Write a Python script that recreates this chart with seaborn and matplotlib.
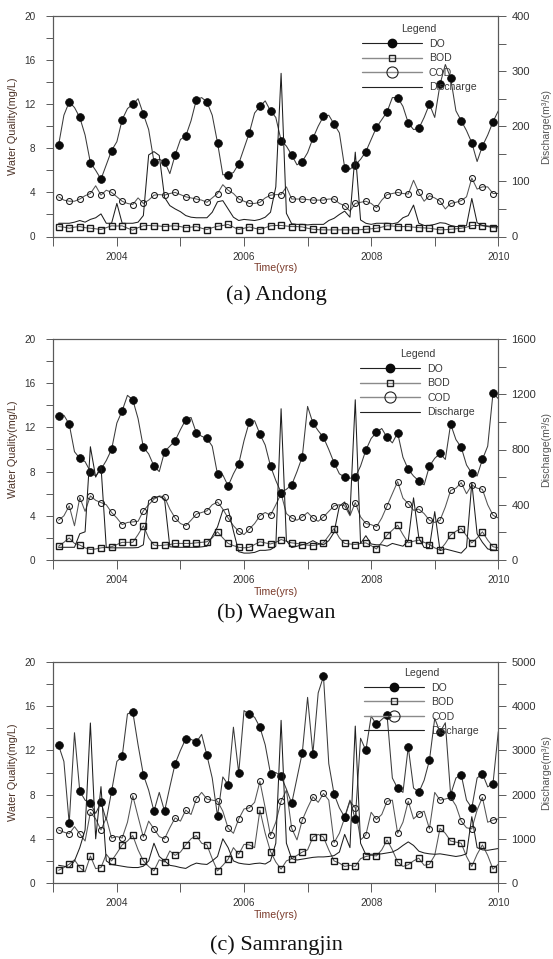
import numpy as np
import pandas as pd
import matplotlib
matplotlib.use("Agg")
import matplotlib.pyplot as plt
import seaborn as sns
from matplotlib.lines import Line2D
from matplotlib.ticker import MultipleLocator, FixedLocator, FuncFormatter

sns.set_theme(style="white")
plt.rcParams['font.family'] = ['Liberation Sans', 'DejaVu Sans']

# monthly time axis (Feb 2003 ... Jan 2010 as decimal years)
time_yrs = 2003 + np.arange(1, 85) / 12.0

# ---------------- (a) Andong ----------------
andong_do = [8.3, 11.0, 12.2, 11.7, 10.8, 9.2, 6.7, 6.0, 5.2, 6.5, 7.8, 8.6,
             10.6, 11.6, 12.0, 12.5, 11.1, 9.7, 6.8, 7.0, 6.8, 5.7, 7.4, 8.8,
             9.1, 10.5, 12.4, 12.6, 12.2, 11.0, 8.5, 5.6, 5.6, 5.8, 6.6, 8.0,
             9.4, 11.2, 11.8, 12.3, 11.4, 10.8, 8.7, 8.2, 7.4, 6.5, 6.8, 7.6,
             8.9, 10.0, 10.9, 11.0, 10.2, 9.4, 6.25, 6.1, 6.5, 7.0, 7.7, 8.8,
             9.9, 10.6, 11.3, 12.6, 12.6, 11.8, 10.3, 9.7, 9.8, 10.8, 12.0, 10.8,
             13.8, 15.6, 14.4, 11.4, 10.5, 9.6, 8.5, 6.8, 8.2, 9.2, 10.4, 11.4]
andong_bod = [0.9, 0.85, 0.75, 0.85, 0.9, 0.8, 0.75, 0.7, 0.63, 0.8, 0.97, 0.95,
              0.97, 0.75, 0.57, 0.8, 0.97, 1.0, 0.97, 0.95, 0.9, 0.95, 0.97, 0.9,
              0.8, 0.85, 0.9, 0.75, 0.63, 0.8, 0.93, 1.0, 1.1, 0.85, 0.63, 0.75,
              0.87, 0.75, 0.63, 0.8, 0.97, 1.0, 1.0, 0.95, 0.9, 0.9, 0.87, 0.75,
              0.66, 0.62, 0.6, 0.6, 0.6, 0.6, 0.6, 0.6, 0.6, 0.62, 0.66, 0.7,
              0.75, 0.85, 0.97, 0.95, 0.9, 0.9, 0.9, 0.85, 0.8, 0.78, 0.75, 0.68,
              0.6, 0.62, 0.66, 0.7, 0.75, 0.85, 1.0, 1.0, 0.97, 0.9, 0.8, 0.78]
andong_cod = [3.6, 3.3, 3.2, 3.2, 3.4, 3.7, 3.9, 4.6, 3.75, 4.2, 4.0, 3.6,
              3.2, 3.0, 2.9, 3.5, 3.0, 3.3, 3.75, 3.8, 3.75, 3.9, 4.0, 3.8,
              3.6, 3.5, 3.4, 3.3, 3.1, 3.5, 3.9, 4.7, 4.2, 3.9, 3.4, 3.2,
              3.0, 3.0, 3.1, 3.5, 3.75, 3.8, 3.8, 4.5, 3.4, 3.4, 3.4, 3.35,
              3.3, 3.3, 3.3, 3.4, 3.4, 3.0, 2.8, 2.3, 3.0, 3.1, 3.2, 3.0,
              2.6, 3.3, 3.8, 3.9, 4.0, 3.9, 3.85, 5.1, 4.0, 3.2, 3.7, 3.5,
              3.2, 2.5, 3.0, 3.1, 3.25, 3.6, 5.3, 4.3, 4.5, 4.5, 3.9, 3.9]
andong_q = [24, 24, 24, 26, 29, 26, 31, 34, 41, 24, 24, 60,
            24, 24, 24, 26, 38, 148, 154, 147, 71, 56, 50, 45,
            38, 35, 34, 34, 34, 44, 63, 65, 50, 35, 29, 31,
            30, 29, 31, 35, 44, 90, 296, 42, 23, 22, 22, 21,
            22, 22, 22, 29, 33, 40, 46, 35, 153, 30, 24, 22,
            24, 24, 24, 23, 25, 34, 38, 57, 24, 20, 20, 22,
            25, 24, 20, 18, 18, 20, 69, 25, 20, 19, 18, 18]

# ---------------- (b) Waegwan ----------------
waegwan_do = [13.06, 13.1, 12.3, 9.8, 9.2, 8.9, 8.0, 7.6, 8.2, 9.0, 10.0, 12.4,
              13.5, 14.9, 14.5, 12.8, 10.2, 9.6, 8.5, 8.0, 9.8, 10.3, 10.8, 11.8,
              12.7, 12.9, 11.5, 11.2, 11.0, 10.3, 7.75, 7.7, 6.7, 7.8, 8.7, 10.8,
              12.5, 12.6, 11.4, 10.4, 8.5, 7.2, 6.1, 6.4, 6.8, 8.0, 9.35, 13.9,
              12.4, 11.7, 11.1, 10.0, 8.8, 7.8, 7.5, 7.4, 7.5, 8.5, 9.95, 11.0,
              11.55, 11.9, 11.1, 10.6, 11.5, 9.3, 8.2, 7.6, 7.15, 6.8, 8.5, 9.2,
              9.65, 9.1, 12.3, 10.9, 10.2, 8.6, 7.85, 7.6, 9.1, 10.3, 15.1, 14.6]
waegwan_bod = [1.25, 1.6, 2.0, 1.5, 1.35, 1.1, 0.95, 1.0, 1.1, 1.15, 1.2, 1.4,
               1.6, 1.6, 1.6, 2.3, 3.1, 2.0, 1.35, 1.3, 1.35, 1.4, 1.5, 1.5,
               1.5, 1.5, 1.55, 1.6, 1.65, 2.0, 2.55, 2.0, 1.5, 1.3, 1.15, 1.1,
               1.15, 1.4, 1.65, 1.55, 1.45, 1.6, 1.85, 1.7, 1.55, 1.5, 1.4, 1.35,
               1.3, 1.4, 1.55, 2.2, 2.85, 2.0, 1.5, 1.45, 1.4, 1.5, 1.55, 1.3,
               1.0, 1.6, 2.25, 2.7, 3.15, 2.3, 1.55, 1.7, 1.8, 1.6, 1.4, 1.1,
               0.9, 1.5, 2.25, 2.6, 2.85, 2.2, 1.55, 2.0, 2.55, 1.8, 1.2, 1.1]
waegwan_cod = [3.6, 4.0, 4.9, 3.1, 5.65, 4.4, 5.8, 5.4, 5.2, 5.0, 4.3, 3.8,
               3.2, 3.4, 3.45, 3.5, 4.45, 5.0, 5.5, 5.8, 5.7, 4.6, 3.8, 3.3,
               3.1, 3.6, 4.15, 4.3, 4.45, 5.0, 5.25, 4.6, 3.8, 3.1, 2.6, 2.3,
               2.8, 3.3, 4.0, 4.3, 4.05, 5.0, 6.0, 4.2, 3.8, 3.6, 3.9, 4.3,
               3.8, 3.5, 3.9, 4.4, 4.9, 5.0, 4.9, 4.0, 5.2, 3.9, 3.3, 3.2,
               3.0, 3.8, 4.9, 6.0, 7.1, 5.6, 5.1, 4.5, 4.6, 4.2, 3.6, 3.4,
               3.6, 4.8, 6.3, 6.5, 7.0, 6.0, 6.8, 6.5, 6.4, 5.0, 4.05, 3.8]
waegwan_q = [92, 92, 92, 92, 190, 204, 820, 600, 680, 90, 88, 88,
             88, 88, 88, 90, 110, 430, 450, 460, 440, 96, 92, 92,
             92, 92, 92, 95, 100, 170, 240, 360, 370, 210, 60, 50,
             50, 55, 70, 70, 75, 100, 1095, 140, 90, 100, 110, 120,
             140, 120, 110, 140, 200, 390, 420, 330, 1160, 120, 176, 116,
             110, 110, 100, 120, 110, 100, 140, 450, 160, 90, 90, 350,
             68, 80, 70, 60, 50, 90, 560, 190, 128, 80, 72, 68]

# ---------------- (c) Samrangjin ----------------
samrang_do = [12.45, 11.0, 5.4, 13.6, 8.3, 7.5, 7.2, 6.3, 7.3, 5.7, 8.3, 11.0,
              11.45, 15.3, 15.5, 12.5, 9.8, 8.4, 6.5, 8.2, 6.5, 8.7, 10.8, 12.0,
              13.05, 13.0, 12.75, 13.45, 11.55, 9.5, 6.05, 9.6, 8.9, 14.1, 9.95, 15.6,
              15.25, 15.0, 14.1, 12.5, 9.9, 10.0, 9.65, 8.5, 7.2, 9.5, 11.8, 16.8,
              11.7, 17.2, 18.7, 10.8, 8.05, 6.8, 5.97, 7.5, 5.76, 13.1, 12.0, 15.1,
              14.35, 14.8, 15.2, 9.5, 8.57, 8.2, 12.3, 8.6, 8.2, 9.3, 11.1, 14.9,
              13.65, 14.5, 8.0, 9.5, 9.8, 7.5, 6.8, 9.5, 9.9, 8.7, 9.0, 13.7]
samrang_bod = [1.15, 1.4, 1.7, 2.1, 1.4, 1.0, 2.45, 1.3, 1.4, 2.6, 2.0, 2.7,
               3.45, 3.8, 4.3, 3.0, 2.0, 1.5, 1.1, 2.1, 1.9, 2.9, 2.5, 2.8,
               3.45, 4.0, 4.3, 3.6, 3.45, 2.2, 1.1, 1.6, 2.15, 3.2, 2.6, 3.5,
               3.45, 3.2, 6.6, 4.5, 2.85, 1.9, 1.25, 2.0, 2.2, 2.5, 2.8, 3.0,
               4.15, 4.4, 4.15, 3.0, 2.0, 1.8, 1.5, 1.6, 1.5, 2.2, 2.4, 2.5,
               2.45, 3.0, 3.9, 3.0, 1.9, 1.5, 1.65, 2.0, 2.25, 1.6, 1.7, 2.5,
               4.95, 4.5, 3.8, 3.7, 3.6, 2.4, 1.5, 2.6, 3.45, 2.5, 1.25, 1.7]
samrang_cod = [4.8, 4.6, 4.45, 5.1, 4.45, 3.8, 6.4, 5.8, 4.8, 5.9, 4.07, 4.2,
               4.07, 5.5, 7.9, 6.0, 4.15, 5.6, 4.9, 4.2, 4.0, 5.0, 5.9, 5.6,
               6.6, 6.2, 7.6, 8.2, 7.6, 7.5, 7.4, 6.5, 4.95, 4.5, 5.8, 6.7,
               6.8, 7.3, 9.2, 6.8, 4.3, 5.5, 7.4, 8.4, 4.95, 3.9, 5.7, 6.8,
               7.8, 7.3, 8.1, 7.5, 3.65, 4.5, 5.9, 7.4, 6.8, 3.9, 4.35, 6.4,
               5.75, 6.2, 7.4, 7.5, 4.5, 5.5, 7.4, 5.8, 6.25, 6.5, 4.9, 8.2,
               7.5, 7.6, 7.75, 7.0, 5.6, 5.0, 4.9, 6.6, 7.75, 5.5, 5.7, 5.8]
samrang_q = [400, 380, 350, 500, 800, 1200, 3620, 1000, 2180, 500, 420, 400,
             380, 360, 350, 350, 380, 500, 900, 600, 500, 400, 380, 350,
             330, 400, 450, 430, 420, 500, 600, 1000, 800, 500, 450, 430,
             420, 440, 450, 430, 500, 900, 3680, 900, 550, 520, 540, 560,
             580, 590, 590, 600, 620, 700, 1100, 800, 3550, 900, 640, 650,
             650, 660, 680, 700, 760, 850, 930, 850, 720, 680, 660, 650,
             660, 640, 620, 600, 620, 660, 1500, 800, 750, 740, 760, 780]

station_names = ["(a) Andong", "(b) Waegwan", "(c) Samrangjin"]
do_series = [andong_do, waegwan_do, samrang_do]
bod_series = [andong_bod, waegwan_bod, samrang_bod]
cod_series = [andong_cod, waegwan_cod, samrang_cod]
q_series = [andong_q, waegwan_q, samrang_q]
q_max = [400, 1600, 5000]
q_major = [100, 400, 1000]
q_minor = [50, 200, 500]
x_tick_labels = [2004, 2006, 2008, 2010]
legend_labels = ["DO", "BOD", "COD", "Discharge"]

# ---------------- layout (pixels of a 553x959 canvas) ----------------
W, H = 553, 959
boxes = [(53.3, 16, 498.3, 236.5), (53.3, 339, 498.3, 560), (53.3, 662, 498.3, 883)]
legend_px = [(361.6, 30), (360, 355), (364, 673.7)]
caption_y = [295, 613, 945]

fig = plt.figure(figsize=(W / 100, H / 100), dpi=100)

spine_c = "#5a5a5a"
tick_lab_c = "#333333"

for i in range(3):
    l, t, r, b = boxes[i]
    ax = fig.add_axes([l / W, 1 - b / H, (r - l) / W, (b - t) / H])
    ax2 = ax.twinx()
    df = pd.DataFrame({"Time": time_yrs, "DO": do_series[i], "BOD": bod_series[i],
                       "COD": cod_series[i], "Discharge": q_series[i]})
    common = dict(estimator=None, errorbar=None, sort=False, markevery=2)
    sns.lineplot(data=df, x="Time", y="COD", ax=ax, color="#555555", lw=0.75,
                 marker="o", ms=4.3, mfc="none", mec="#1a1a1a", mew=0.75, **common)
    sns.lineplot(data=df, x="Time", y="BOD", ax=ax, color="#555555", lw=0.75,
                 marker="s", ms=4.0, mfc="none", mec="#1a1a1a", mew=1.0, **common)
    sns.lineplot(data=df, x="Time", y="DO", ax=ax, color="#3a3a3a", lw=0.75,
                 marker="o", ms=5.6, mfc="#0a0a0a", mec="#0a0a0a", mew=0.5, **common)
    sns.lineplot(data=df, x="Time", y="Discharge", ax=ax2, color="#1e1e1e", lw=0.75,
                 estimator=None, errorbar=None, sort=False)

    ax.set_xlim(2003, 2010)
    ax.set_ylim(0, 20)
    ax2.set_ylim(0, q_max[i])

    ax.xaxis.set_major_locator(FixedLocator(x_tick_labels))
    ax.xaxis.set_minor_locator(MultipleLocator(1))
    ax.xaxis.set_major_formatter(FuncFormatter(lambda v, p: f"{int(round(v))}"))
    ax.yaxis.set_major_locator(MultipleLocator(4))
    ax.yaxis.set_minor_locator(MultipleLocator(2))
    ax2.yaxis.set_major_locator(MultipleLocator(q_major[i]))
    ax2.yaxis.set_minor_locator(MultipleLocator(q_minor[i]))
    ax2.yaxis.set_major_formatter(FuncFormatter(lambda v, p: f"{int(round(v))}"))

    ax.tick_params(axis="x", which="both", bottom=True, direction="out", length=6.5,
                   width=0.7, color=spine_c, labelsize=7.2, labelcolor=tick_lab_c, pad=4.5)
    ax.tick_params(axis="y", which="both", left=True, direction="out", length=5,
                   width=0.7, color=spine_c, labelsize=7.2, labelcolor=tick_lab_c, pad=8)
    ax2.tick_params(axis="y", which="both", right=True, direction="out", length=6,
                    width=0.7, color=spine_c, labelsize=8, labelcolor=tick_lab_c, pad=3.5)
    for a in (ax, ax2):
        for s in a.spines.values():
            s.set_color(spine_c)
            s.set_linewidth(0.8)
        a.grid(False)

    ax.set_xlabel("Time(yrs)", fontsize=7.6, color="#7a3a2a")
    ax.xaxis.set_label_coords(0.5, -0.12)
    ax.set_ylabel("Water Quality(mg/L)", fontsize=7.8, color="#4d3328")
    ax.yaxis.set_label_coords(-0.079, 0.5)
    ax2.set_ylabel("Discharge(m\u00b3/s)", fontsize=7.6, color="#555555")
    ax2.yaxis.set_label_coords(1.096, 0.5)

    handles = [
        Line2D([], [], color="#222222", lw=0.8, marker="o", ms=6, mfc="#0a0a0a", mec="#0a0a0a"),
        Line2D([], [], color="#8a8a8a", lw=1.0, marker="s", ms=5, mfc="none", mec="#222222", mew=1.0),
        Line2D([], [], color="#8a8a8a", lw=1.0, marker="o", ms=8, mfc="none", mec="#222222", mew=0.8),
        Line2D([], [], color="#222222", lw=0.8),
    ]
    lx_px, ly_px = legend_px[i]
    lx = (lx_px - l) / (r - l)
    ly = 1 - (ly_px - t - 5.5) / (b - t)
    leg = ax2.legend(handles, legend_labels, title="Legend", loc="upper left",
                     bbox_to_anchor=(lx, ly), frameon=False, fontsize=7.6,
                     title_fontsize=7.6, handlelength=5.7, handletextpad=0.65,
                     labelspacing=0.42, borderpad=0, borderaxespad=0)
    for txt in leg.get_texts():
        txt.set_color("#3a3a3a")
    leg.get_title().set_color("#3a3a3a")

    fig.text(0.5, 1 - caption_y[i] / H, station_names[i], ha="center", va="center",
             fontsize=16, family="Liberation Serif", color="#111111")

fig.savefig("out.png", dpi=100)
